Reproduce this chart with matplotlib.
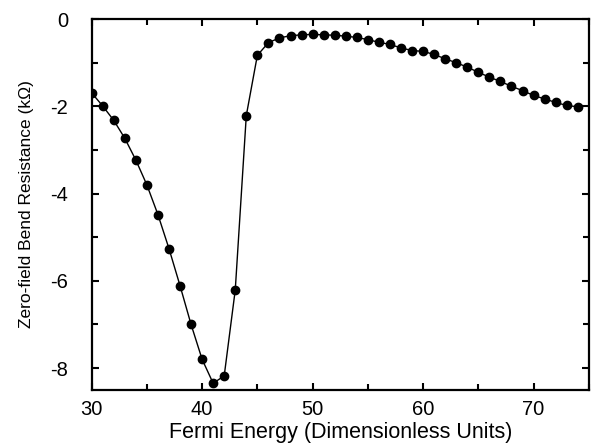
import matplotlib
matplotlib.use("Agg")
import matplotlib.pyplot as plt
from matplotlib.ticker import MultipleLocator, FuncFormatter

fermi_energy = list(range(30, 75))
resistance = [-1.69, -1.99, -2.32, -2.73, -3.23, -3.80, -4.48, -5.26, -6.11, -7.00,
              -7.80, -8.35, -8.18, -6.21, -2.21, -0.83, -0.54, -0.43, -0.38, -0.36,
              -0.35, -0.36, -0.37, -0.39, -0.42, -0.47, -0.53, -0.58, -0.66, -0.72,
              -0.74, -0.81, -0.91, -1.00, -1.10, -1.22, -1.33, -1.43, -1.54, -1.64,
              -1.75, -1.83, -1.91, -1.98, -2.01]

plt.rcParams['font.family'] = ['Liberation Sans', 'DejaVu Sans']

fig = plt.figure(figsize=(5.96, 4.45), dpi=100)
ax = fig.add_axes([0.1537, 0.124, 0.988 - 0.1537, 0.957 - 0.124])
ax.plot(fermi_energy, resistance, color='black', linewidth=1.0, marker='o',
        markersize=6, markerfacecolor='black', markeredgecolor='black')
ax.set_xlim(30, 75)
ax.set_ylim(-8.5, 0)
ax.xaxis.set_major_locator(MultipleLocator(10))
ax.xaxis.set_minor_locator(MultipleLocator(5))
ax.yaxis.set_major_locator(MultipleLocator(2))
ax.yaxis.set_minor_locator(MultipleLocator(1))
ax.yaxis.set_major_formatter(FuncFormatter(lambda v, p: f"{v:.0f}".replace('\u2212', '-')))
ax.tick_params(which='both', direction='in', top=True, right=True, width=1.5, labelsize=14.5)
ax.tick_params(which='major', length=5)
ax.tick_params(which='minor', length=4)
ax.tick_params(axis='x', which='major', pad=7)
ax.tick_params(axis='y', which='major', pad=17)
for s in ax.spines.values():
    s.set_linewidth(1.6)
ax.set_xlabel('Fermi Energy (Dimensionless Units)', fontsize=15.5)
ax.set_ylabel('Zero-field Bend Resistance (k\u03a9)', fontsize=12.5)
ax.xaxis.set_label_coords(0.5, -0.086)
ax.yaxis.set_label_coords(-0.116, 0.5)
fig.savefig('out.png', dpi=100)
